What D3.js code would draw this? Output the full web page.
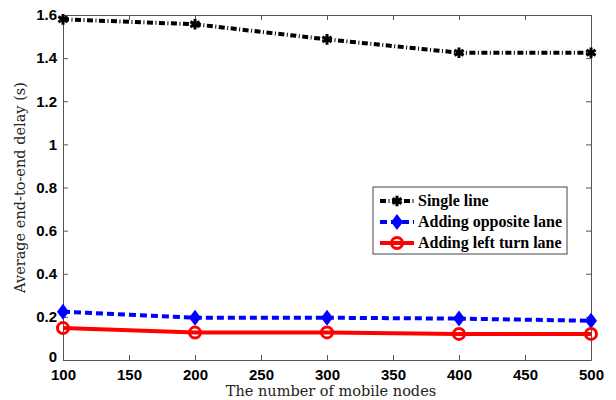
<!DOCTYPE html>
<html>
<head>
<meta charset="utf-8">
<script src="https://cdn.jsdelivr.net/npm/d3@7"></script>
<style>
  body { margin: 0; background: #fff; }
  .tick text { font-family: "Liberation Sans", Arial, sans-serif; font-weight: bold; font-size: 15px; fill: #000; }
  .axis path, .axis line { stroke: #555; }
</style>
</head>
<body>
<div id="chart"></div>
<script>
// data
let nodes = [100, 200, 300, 400, 500];
let singleLine = [1.580, 1.557, 1.487, 1.425, 1.425];
let oppositeLane = [0.224, 0.196, 0.196, 0.192, 0.182];
let leftTurnLane = [0.148, 0.127, 0.128, 0.121, 0.121];

let xTicks = [100, 150, 200, 250, 300, 350, 400, 450, 500];
let yTicks = [0, 0.2, 0.4, 0.6, 0.8, 1, 1.2, 1.4, 1.6];

let seriesNames = ["Single line", "Adding opposite lane", "Adding left turn lane"];

let margin = { top: 15, right: 25, bottom: 40, left: 63 };
let width = 616 - margin.left - margin.right,
    height = 400 - margin.top - margin.bottom;

let svg = d3.select("#chart").append("svg")
    .attr("width", 616)
    .attr("height", 400);

let g = svg.append("g")
    .attr("transform", "translate(" + margin.left + "," + margin.top + ")");

let x = d3.scaleLinear().domain([100, 500]).range([0, width]);
let y = d3.scaleLinear().domain([0, 1.6]).range([height, 0]);

// axes, ticks point inward
g.append("g")
    .attr("class", "axis")
    .attr("transform", "translate(0," + height + ")")
    .call(d3.axisBottom(x).tickValues(xTicks).tickSize(-5).tickSizeOuter(0).tickPadding(6))
    .call(a => a.selectAll("text").attr("dy", "0.9em"));

g.append("g")
    .attr("class", "axis")
    .call(d3.axisLeft(y).tickValues(yTicks).tickSize(-5).tickSizeOuter(0).tickPadding(6)
        .tickFormat(d => d3.format("")(+d.toFixed(1))))
    .call(a => a.selectAll("text").filter(d => d === 0).attr("dy", "0.1em"));

g.append("g")
    .attr("class", "axis")
    .call(d3.axisTop(x).tickValues(xTicks).tickSize(-5).tickSizeOuter(0).tickFormat(""));

g.append("g")
    .attr("class", "axis")
    .attr("transform", "translate(" + width + ",0)")
    .call(d3.axisRight(y).tickValues(yTicks).tickSize(-5).tickSizeOuter(0).tickFormat(""));

// axis titles
svg.append("text")
    .attr("x", margin.left + width / 2 + 4)
    .attr("y", 396)
    .attr("text-anchor", "middle")
    .style("font-family", "'DejaVu Serif', 'Liberation Serif', serif")
    .style("font-size", "14.5px")
    .style("fill", "#222")
    .text("The number of mobile nodes");

svg.append("text")
    .attr("transform", "translate(25," + (margin.top + height / 2) + ") rotate(-90)")
    .attr("text-anchor", "middle")
    .style("font-family", "'DejaVu Serif', 'Liberation Serif', serif")
    .style("font-size", "14.5px")
    .style("fill", "#222")
    .text("Average end-to-end delay (s)");

let line = d3.line()
    .x(d => x(d[0]))
    .y(d => y(d[1]));

let styles = [
    { color: "#000", width: 4, dash: "6,2.5,1,2.5", marker: "star" },
    { color: "#0000ff", width: 4, dash: "7,4", marker: "diamond" },
    { color: "#ff0000", width: 4, dash: null, marker: "circle" }
];

let allSeries = [singleLine, oppositeLane, leftTurnLane];

function drawMarker(sel, type, color) {
    if (type === "star") {
        sel.append("path")
            .attr("d", d3.symbol().type(d3.symbolAsterisk).size(80))
            .attr("stroke", color)
            .attr("stroke-width", 3)
            .attr("fill", color);
        sel.append("circle").attr("r", 2.5).attr("fill", color);
    } else if (type === "diamond") {
        sel.append("path")
            .attr("d", "M0,-8L6,0L0,8L-6,0Z")
            .attr("fill", color);
    } else {
        sel.append("circle")
            .attr("r", 5.5)
            .attr("fill", "none")
            .attr("stroke", color)
            .attr("stroke-width", 3);
    }
}

allSeries.forEach(function(vals, i) {
    let s = styles[i];
    let pts = nodes.map((n, j) => [n, vals[j]]);

    g.append("path")
        .datum(pts)
        .attr("d", line)
        .attr("fill", "none")
        .attr("stroke", s.color)
        .attr("stroke-width", s.width)
        .attr("stroke-dasharray", s.dash);

    pts.forEach(function(p) {
        let m = g.append("g").attr("transform", "translate(" + x(p[0]) + "," + y(p[1]) + ")");
        drawMarker(m, s.marker, s.color);
    });
});

// legend
let legend = svg.append("g").attr("transform", "translate(373,187)");

legend.append("rect")
    .attr("width", 194)
    .attr("height", 67)
    .attr("fill", "#fff")
    .attr("stroke", "#444")
    .attr("stroke-width", 1);

seriesNames.forEach(function(name, i) {
    let s = styles[i];
    let row = legend.append("g").attr("transform", "translate(0," + (14 + i * 21) + ")");
    row.append("line")
        .attr("x1", 7).attr("x2", 41)
        .attr("stroke", s.color)
        .attr("stroke-width", s.width)
        .attr("stroke-dasharray", s.dash);
    let m = row.append("g").attr("transform", "translate(24,0)");
    drawMarker(m, s.marker, s.color);
    row.append("text")
        .attr("x", 45)
        .attr("y", 5)
        .style("font-family", "'Liberation Serif', 'Times New Roman', serif")
        .style("font-weight", "bold")
        .style("font-size", "16px")
        .text(name);
});
</script>
</body>
</html>
